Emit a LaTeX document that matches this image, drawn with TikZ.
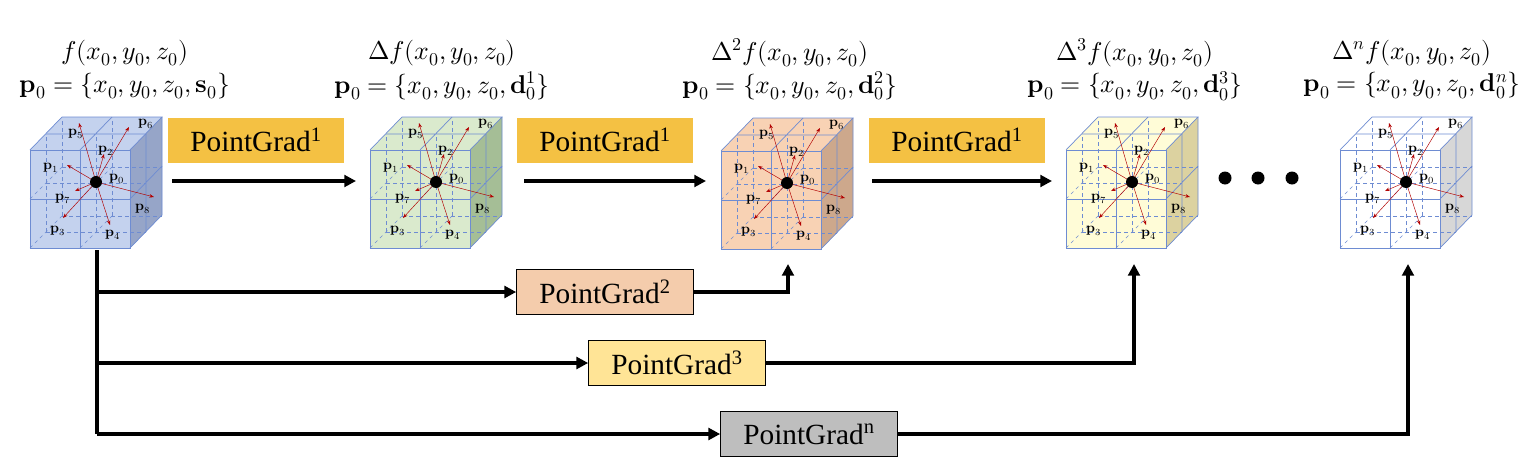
\documentclass[tikz,border=0pt]{standalone}
\usepackage{amsmath}
\usepackage{fontspec}
\setmainfont{Liberation Serif}
\usepackage{unicode-math}
\usetikzlibrary{arrows.meta,calc}

\definecolor{cubeblue}{RGB}{196,210,238}
\definecolor{sideblue}{RGB}{150,165,200}
\definecolor{cubegreen}{RGB}{218,234,205}
\definecolor{sidegreen}{RGB}{165,190,150}
\definecolor{cubeorange}{RGB}{248,210,180}
\definecolor{sideorange}{RGB}{205,168,140}
\definecolor{cubeyellow}{RGB}{255,252,215}
\definecolor{sideyellow}{RGB}{220,210,160}
\definecolor{sidegrey}{RGB}{215,215,215}
\definecolor{gold}{RGB}{244,193,67}
\definecolor{peach}{RGB}{244,204,172}
\definecolor{lightgold}{RGB}{255,228,150}
\definecolor{midgrey}{RGB}{190,190,190}
\definecolor{cubeedge}{RGB}{110,140,210}

\tikzset{
  edge/.style={draw=cubeedge, line width=0.6pt},
  hidden/.style={draw=cubeedge, dashed, line width=0.5pt},
  vec/.style={draw=red!70!black, line width=0.4pt, -{Stealth[length=4pt]}},
  lbl/.style={font=\large\bfseries, inner sep=0pt},
  flow/.style={line width=3.2pt, -{Triangle[length=10pt,width=10pt]}},
  gradbox/.style={minimum width=5.3cm, minimum height=1.35cm, font=\fontsize{25}{28}\selectfont},
  title/.style={font=\fontsize{22}{26}\selectfont},
}

% cube with front face lower-left corner at (#1,#2)
\newcommand{\drawcube}[5]{
  \begin{scope}[shift={(#1,#2)}]
    \fill[#3] (0,0) -- (100,0) -- (132,-33) -- (132,-131) -- (100,-98) -- (0,-98) -- cycle;
    \fill[#3] (0,-98) -- (32,-131) -- (132,-131) -- (100,-98) -- cycle;
    \fill[#4] (100,0) -- (132,-33) -- (132,-131) -- (100,-98) -- cycle;
    % hidden grid
    \foreach \d in {16,32} {
      \draw[hidden] (\d,-\d) -- ++(100,0);
      \draw[hidden] (\d,-\d) -- ++(0,-98);
      \draw[hidden] (50+\d,-\d) -- ++(0,-98);
      \draw[hidden] (\d,-49-\d) -- ++(100,0);
    }
    \foreach \x in {0,50} \foreach \y in {0,-49}
      \draw[hidden] (\x,\y) -- ++(32,-32);
    % visible edges
    \draw[edge] (0,0) rectangle (100,-98);
    \draw[edge] (50,0) -- (50,-98) (0,-49) -- (100,-49);
    \draw[edge] (0,-98) -- (32,-131) -- (132,-131) -- (100,-98);
    \draw[edge] (50,-98) -- (82,-131) (16,-114) -- (116,-114);
    \draw[edge] (132,-131) -- (132,-33) -- (100,0);
    \draw[edge] (100,-49) -- (132,-82) (116,-16) -- (116,-114);
    % vectors
    \coordinate (#5) at (66,-66);
    \foreach \dx/\dy in {-17/-59, 33/-55, 8/-28, -29/-17, 58/15, -21/9, -33/36, 14/43}
      \draw[vec] (#5) -- ++(\dx,\dy);
    \fill (#5) circle (6);
    \foreach \i/\dx/\dy in {5/-20/-48, 6/50/-58, 2/10/-31, 1/-45/-14, 0/21/-3, 7/-33/17, 8/47/27, 3/-38/49, 4/17/53}
      \node[lbl] at ($(#5)+(\dx,\dy)$) {$\symbf{p}_{\i}$};
  \end{scope}
}

\begin{document}
\begin{tikzpicture}[x=0.03cm, y=-0.03cm]
  \useasboundingbox (0,0) rectangle (1526,474);

  \drawcube{30}{248}{cubeblue}{sideblue}{c1}
  \drawcube{370}{248}{cubegreen}{sidegreen}{c2}
  \drawcube{721}{249}{cubeorange}{sideorange}{c3}
  \drawcube{1066}{248}{cubeyellow}{sideyellow}{c4}
  \drawcube{1340}{248}{white}{sidegrey}{c5}

  % titles
  \foreach \n/\x/\f/\d in {c1/125/{f}/{\symbf{s}_0},
                           c2/442/{\Delta f}/{\symbf{d}_0^1},
                           c3/790/{\Delta^2 f}/{\symbf{d}_0^2},
                           c4/1135/{\Delta^3 f}/{\symbf{d}_0^3},
                           c5/1412/{\Delta^n f}/{\symbf{d}_0^n}} {
    \node[title] (t\n) at (\x,53) {$\f(x_0,y_0,z_0)$};
    \node[title] (s\n) at (\x,86) {$\symbf{p}_0=\{x_0,y_0,z_0,\d\}$};
  }

  % sequential PointGrad
  \node[gradbox, fill=gold] (g12) at (256,140) {PointGrad\textsuperscript{1}};
  \node[gradbox, fill=gold] (g23) at (605,140) {PointGrad\textsuperscript{1}};
  \node[gradbox, fill=gold] (g34) at (957,140) {PointGrad\textsuperscript{1}};
  \coordinate (a1) at (172,181); \coordinate (b1) at (356,181);
  \coordinate (a2) at (524,181); \coordinate (b2) at (706,181);
  \coordinate (a3) at (872,181); \coordinate (b3) at (1052,181);
  \draw[flow] (a1) -- (b1);
  \draw[flow] (a2) -- (b2);
  \draw[flow] (a3) -- (b3);

  \foreach \x in {1225,1258,1292} \fill (\x,178) circle (6.5);

  % skip PointGrad
  \node[gradbox, draw, line width=0.8pt, fill=peach] (g2) at (605,292) {PointGrad\textsuperscript{2}};
  \node[gradbox, draw, line width=0.8pt, fill=lightgold] (g3) at (677,363) {PointGrad\textsuperscript{3}};
  \node[gradbox, draw, line width=0.8pt, fill=midgrey] (gn) at (809,434) {PointGrad\textsuperscript{n}};

  \coordinate (src) at (97,250);
  \coordinate (e3) at (788,264); \coordinate (e4) at (1134,264); \coordinate (e5) at (1408,264);
  \draw[line width=3.2pt] (src) -- (src |- gn);
  \draw[flow] (src |- g2) -- (g2);
  \draw[flow] (src |- g3) -- (g3);
  \draw[flow] (src |- gn) -- (gn);
  \draw[flow] (g2) -| (e3);
  \draw[flow] (g3) -| (e4);
  \draw[flow] (gn) -| (e5);
\end{tikzpicture}
\end{document}
